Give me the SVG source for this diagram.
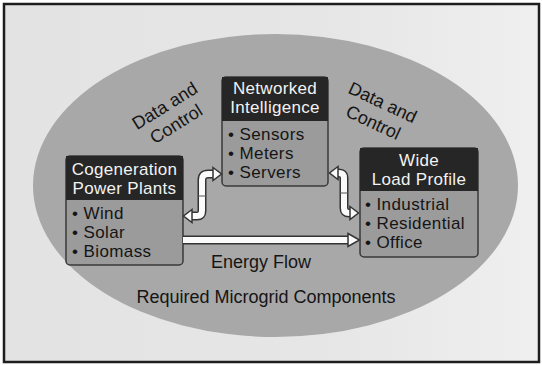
<svg xmlns="http://www.w3.org/2000/svg" width="542" height="365" viewBox="0 0 542 365">
  <defs>
    <linearGradient id="page" x1="0" y1="0" x2="1" y2="0">
      <stop offset="0" stop-color="#e3e3e3"/>
      <stop offset="0.6" stop-color="#e6e6e6"/>
      <stop offset="1" stop-color="#efefef"/>
    </linearGradient>
    <style>
      text { font-family: "Liberation Sans", Arial, sans-serif; }
      .lbl { font-size: 18px; fill: #151515; text-anchor: middle; }
      .hdr { font-size: 17px; fill: #f2f2f2; text-anchor: middle; letter-spacing: 0.3px; }
      .item { font-size: 17px; fill: #151515; letter-spacing: 0.4px; }
      .box { fill: #9b9b9b; stroke: #3a3a3a; stroke-width: 1.5; }
      .head { fill: #262626; }
      .shaftO { fill: none; stroke: #333; stroke-width: 9; stroke-linejoin: round; }
      .shaftI { fill: none; stroke: #fafafa; stroke-width: 6; stroke-linejoin: round; }
      .tip { fill: #fafafa; stroke: #333; stroke-width: 1.5; stroke-linejoin: miter; }
    </style>
  </defs>

  <!-- page -->
  <rect x="0" y="0" width="542" height="365" fill="#ffffff"/>
  <rect x="4" y="4" width="535" height="358" fill="url(#page)" stroke="#1e1e1e" stroke-width="2.5"/>

  <!-- ellipse -->
  <ellipse cx="275.5" cy="185.5" rx="242.5" ry="151.5" fill="#a8a8a8"/>

  <!-- labels -->
  <g id="label-dc-left" transform="translate(168,111) rotate(-32)">
    <text class="lbl" x="0" y="0">Data and</text>
    <text class="lbl" x="0" y="21.5">Control</text>
  </g>
  <g id="label-dc-right" transform="translate(380,108) rotate(25)">
    <text class="lbl" x="0" y="0">Data and</text>
    <text class="lbl" x="0" y="22">Control</text>
  </g>
  <text id="label-energy" class="lbl" x="261" y="268">Energy Flow</text>
  <text id="label-title" class="lbl" x="266" y="303">Required Microgrid Components</text>

  <!-- nodes -->
  <g id="node-cogeneration">
    <rect class="box" x="66" y="156" width="117" height="109" rx="4"/>
    <rect class="head" x="66" y="156" width="117" height="44"/>
    <text class="hdr" x="124.5" y="175">Cogeneration</text>
    <text class="hdr" x="124.5" y="194">Power Plants</text>
    <text class="item" x="72" y="219">• Wind</text>
    <text class="item" x="72" y="238">• Solar</text>
    <text class="item" x="72" y="257">• Biomass</text>
  </g>

  <g id="node-networked">
    <rect class="box" x="222" y="77" width="106" height="109" rx="4"/>
    <rect class="head" x="222" y="77" width="106" height="44"/>
    <text class="hdr" x="275" y="94">Networked</text>
    <text class="hdr" x="275" y="113">Intelligence</text>
    <text class="item" x="228" y="140">• Sensors</text>
    <text class="item" x="228" y="159">• Meters</text>
    <text class="item" x="228" y="178">• Servers</text>
  </g>

  <g id="node-load">
    <rect class="box" x="360" y="148" width="118" height="109" rx="4"/>
    <rect class="head" x="360" y="148" width="118" height="43"/>
    <text class="hdr" x="419" y="166">Wide</text>
    <text class="hdr" x="419" y="185">Load Profile</text>
    <text class="item" x="365" y="210">• Industrial</text>
    <text class="item" x="365" y="229">• Residential</text>
    <text class="item" x="365" y="248">• Office</text>
  </g>

  <!-- connectors -->
  <g id="connectors">
    <!-- cogeneration <-> networked -->
    <path class="shaftO" d="M190 216 H197 Q202 216 202 211 V180 Q202 174 208 174 H215"/>
    <path class="shaftI" d="M190 216 H197 Q202 216 202 211 V180 Q202 174 208 174 H215"/>
    <line x1="198" y1="196" x2="206" y2="196" stroke="#555" stroke-width="1"/>
    <polygon class="tip" points="192,209.5 183.5,216 192,222.5"/>
    <polygon class="tip" points="213,167.5 221.5,174 213,180.5"/>

    <!-- networked <-> load -->
    <path class="shaftO" d="M337 173 H339 Q344 173 344 178 V208 Q344 213 349 213 H351"/>
    <path class="shaftI" d="M337 173 H339 Q344 173 344 178 V208 Q344 213 349 213 H351"/>
    <line x1="340" y1="193" x2="348" y2="193" stroke="#555" stroke-width="1"/>
    <polygon class="tip" points="338,166.5 329.5,173 338,179.5"/>
    <polygon class="tip" points="350,206.5 358.5,213 350,219.5"/>

    <!-- energy flow -->
    <path class="shaftO" d="M183 240 H351"/>
    <path class="shaftI" d="M183 240 H351"/>
    <polygon class="tip" points="348,233.5 359.5,240 348,246.5"/>
  </g>
</svg>
